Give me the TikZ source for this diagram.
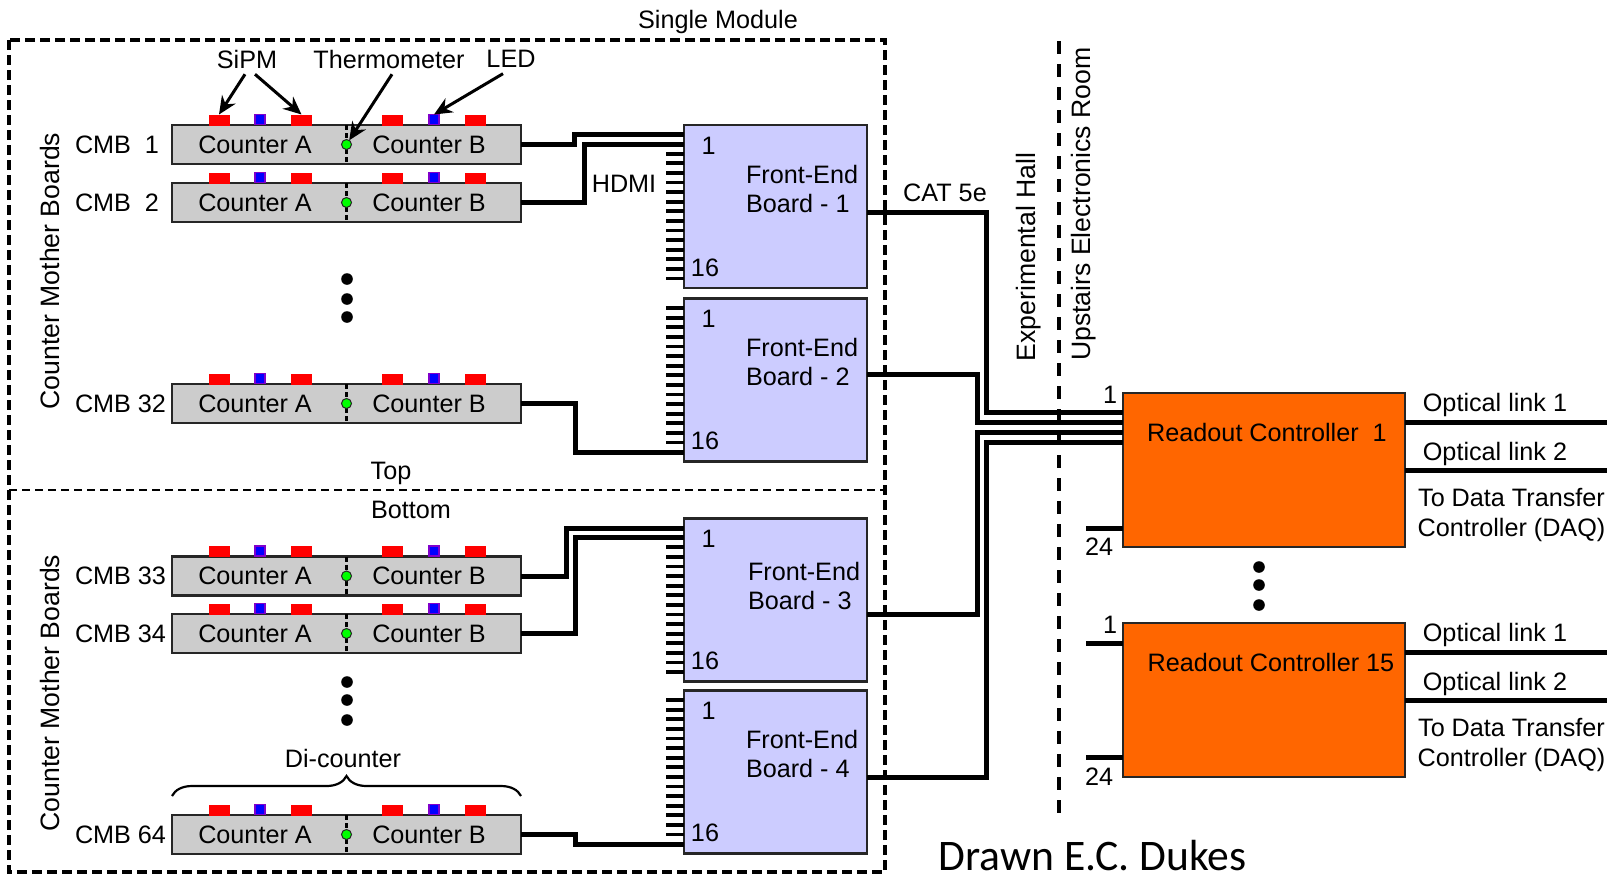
\documentclass[tikz,border=0pt]{standalone}
\usepackage{fontspec}
\setmainfont{Liberation Sans}
\newfontfamily\signfont{Carlito}
\usetikzlibrary{arrows.meta,decorations.pathreplacing}

\definecolor{bargray}{HTML}{CCCCCC}
\definecolor{febblue}{HTML}{CCCCFF}
\definecolor{rocorange}{HTML}{FF6600}
\definecolor{ledpurple}{HTML}{8000CC}

\begin{document}
\begin{tikzpicture}[x=0.5pt, y=-0.5pt, >={Stealth[length=9pt, width=8pt]},
      every node/.style={font=\fontsize{12.6}{14.5}\selectfont, inner sep=0pt, outer sep=0pt},
      frame/.style={line width=1.8pt, dash pattern=on 5pt off 2.5pt},
      split/.style={line width=0.9pt, dash pattern=on 4pt off 2.5pt},
      room/.style={line width=1.7pt, dash pattern=on 6.5pt off 5pt},
      bar/.style={draw=black!85, line width=1.2pt, fill=bargray, minimum width=174.5pt, minimum height=19.5pt},
      sipm/.style={fill=red, minimum width=10.5pt, minimum height=5.5pt},
      led/.style={fill=blue, draw=ledpurple, line width=0.9pt, minimum width=5pt, minimum height=5pt},
      therm/.style={circle, fill=green, draw=black!85, line width=0.5pt, minimum size=5pt},
      feb/.style={draw=black!85, line width=1.2pt, fill=febblue, minimum width=91.5pt, minimum height=81.5pt},
      roc/.style={draw=black!85, line width=1.2pt, fill=rocorange, minimum width=141pt, minimum height=77pt},
      dot/.style={circle, fill=black, minimum size=5.8pt},
      pin/.style={line width=1.9pt},
      cable/.style={line width=2.5pt},
      vlabel/.style={rotate=90, font=\fontsize{13.3}{15}\selectfont},
      arrow/.style={->, line width=1.5pt}]
    \useasboundingbox (0,0) rectangle (1610,873);
    % module frame and room boundary
    \draw[frame] (9,40) rectangle (885,872);
    \draw[split] (9,490) -- (885,490);
    \draw[room] (1059,41) -- (1059,820);
    % counter mother boards
    \foreach \n/\lab/\y in {1/CMB\ \ 1/144.5, 2/CMB\ \ 2/202.5, 32/CMB 32/403.5, 33/CMB 33/576, 34/CMB 34/633.5, 64/CMB 64/834.5} {
      \node[bar] (cmb\n) at (346.5,\y) {};
      \node[anchor=west] (cmb\n lab) at (75,\y) {\lab};
      \node (cmb\n a) at (255,\y) {Counter A};
      \node (cmb\n b) at (429,\y) {Counter B};
      \node[sipm] (cmb\n s1) at (219,\y-24.5) {};
      \node[led] (cmb\n l1) at (260,\y-25) {};
      \node[sipm] (cmb\n s2) at (301.5,\y-24.5) {};
      \node[sipm] (cmb\n s3) at (392.5,\y-24.5) {};
      \node[led] (cmb\n l2) at (434,\y-25) {};
      \node[sipm] (cmb\n s4) at (475,\y-24.5) {};
      \draw[line width=1.1pt, dash pattern=on 2.5pt off 1.5pt] (cmb\n.north) -- (cmb\n.south);
      \node[therm] (cmb\n t) at (cmb\n.center) {};
    }
    \foreach \i/\x/\y in {a/347/279, b/347/299, c/347/317, d/347/682, e/347/700, f/347/720, g/1259/567, h/1259/585, j/1259/605}
      \node[dot] (dot\i) at (\x,\y) {};
    % front-end boards with their 16 inputs
    \foreach \n/\y/\tx/\ty in {1/206.5/746/189, 2/380/746/361.5, 3/600/748/585.5, 4/772/746/754} {
      \node[feb] (feb\n) at (775.5,\y) {};
      \node (feb\n one) at (708.5,\y-61) {1};
      \node (feb\n last) at (705,\y+61) {16};
      \node[anchor=west, align=left] (feb\n txt) at (\tx,\ty) {Front-End\\Board - \n};
      \foreach \i in {1,...,16} {
        \coordinate (feb\n p\i) at (684,\y-72+9.6*\i-9.6);
        \draw[pin] ([xshift=-9pt]feb\n p\i) -- (feb\n p\i);
      }
    }
    % readout controllers
    \node[roc] (roc1) at (1264,470) {};
    \node[roc] (roc15) at (1264,700) {};
    \node (roc1txt) at (1267,432) {Readout Controller\ \ 1};
    \node (roc15txt) at (1271,662) {Readout Controller 15};
    \coordinate (roc1a) at (1123,412);
    \coordinate (roc1b) at (1123,422);
    \coordinate (roc1c) at (1123,432);
    \coordinate (roc1d) at (1123,442);
    \coordinate (roc1e) at (1123,528);
    \coordinate (roc15a) at (1123,643);
    \coordinate (roc15e) at (1123,757);
    \node (roc1one) at (1110,395) {1};
    \node (roc1last) at (1099,547) {24};
    \node (roc15one) at (1110,625) {1};
    \node (roc15last) at (1099,777) {24};
    \draw[cable] ([xshift=-18.5pt]roc1e) -- (roc1e);
    \draw[cable] ([xshift=-18.5pt]roc15a) -- (roc15a);
    \draw[cable] ([xshift=-18.5pt]roc15e) -- (roc15e);
    % HDMI cables
    \draw[cable] (cmb1.east) -| ([xshift=-55pt]feb1p1) -- (feb1p1);
    \draw[cable] (cmb2.east) -| ([xshift=-50pt]feb1p2) -- (feb1p2);
    \draw[cable] (cmb32.east) -| ([xshift=-54.5pt]feb2p16) -- (feb2p16);
    \draw[cable] (cmb33.east) -| ([xshift=-59pt]feb3p1) -- (feb3p1);
    \draw[cable] (cmb34.east) -| ([xshift=-54.5pt]feb3p2) -- (feb3p2);
    \draw[cable] (cmb64.east) -| ([xshift=-54.5pt]feb4p16) -- (feb4p16);
    % CAT 5e cables
    \coordinate (feb1out) at (867,212);
    \coordinate (feb2out) at (867,374);
    \coordinate (feb3out) at (867,614);
    \coordinate (feb4out) at (867,777);
    \draw[cable] (feb1out) -| ([xshift=-68.5pt]roc1a) -- (roc1a);
    \draw[cable] (feb2out) -| ([xshift=-73pt]roc1b) -- (roc1b);
    \draw[cable] (feb3out) -| ([xshift=-73pt]roc1c) -- (roc1c);
    \draw[cable] (feb4out) -| ([xshift=-68.5pt]roc1d) -- (roc1d);
    % optical links
    \foreach \n/\a/\b/\ta/\tb/\tc/\td in {1/422/470/405/453.5/497.5/529.5, 15/652/700/635/683.5/727.5/759.5} {
      \coordinate (opt\n a) at (1607,\a);
      \coordinate (opt\n b) at (1607,\b);
      \draw[cable] (roc\n.east |- opt\n a) -- (opt\n a);
      \draw[cable] (roc\n.east |- opt\n b) -- (opt\n b);
      \node (opt\n atxt) at (1495,\ta) {Optical link 1};
      \node (opt\n btxt) at (1495,\tb) {Optical link 2};
      \node (dtc\n a) at (1511.5,\tc) {To Data Transfer};
      \node (dtc\n b) at (1511.5,\td) {Controller (DAQ)};
    }
    % labels
    \node (single) at (718,22) {Single Module};
    \node (top) at (391,473) {Top};
    \node (bottom) at (411,510) {Bottom};
    \node (hdmi) at (624,184) {HDMI};
    \node (cat) at (945,193) {CAT 5e};
    \node[vlabel] (hall) at (1029,257) {Experimental Hall};
    \node[vlabel] (upstairs) at (1084,204) {Upstairs Electronics Room};
    \node[vlabel] (cmbtop) at (50,271) {Counter Mother Boards};
    \node[vlabel] (cmbbot) at (50,693) {Counter Mother Boards};
    \node (sipmtxt) at (247,59) {SiPM};
    \node (thermtxt) at (389,59) {Thermometer};
    \node (ledtxt) at (511,59) {LED};
    \node (ditxt) at (343,758) {Di-counter};
    \node[anchor=base, font=\signfont\fontsize{21.8}{24}\selectfont] (sign) at (1092.5,870) {Drawn E.C. Dukes};
    \draw[arrow] ([xshift=-1pt, yshift=-3pt]sipmtxt.south) -- (cmb1s1.north);
    \draw[arrow] ([xshift=4pt, yshift=-3pt]sipmtxt.south) -- (cmb1s2.north);
    \draw[arrow] ([xshift=1.5pt, yshift=-3pt]thermtxt.south) -- (cmb1t);
    \draw[arrow] ([xshift=-4pt, yshift=-3pt]ledtxt.south) -- (cmb1l2.north);
    \draw[line width=1.1pt, decorate, decoration={brace, amplitude=10pt}] ([yshift=9.5pt]cmb64.north west) -- ([yshift=9.5pt]cmb64.north east);
  \end{tikzpicture}
\end{document}
